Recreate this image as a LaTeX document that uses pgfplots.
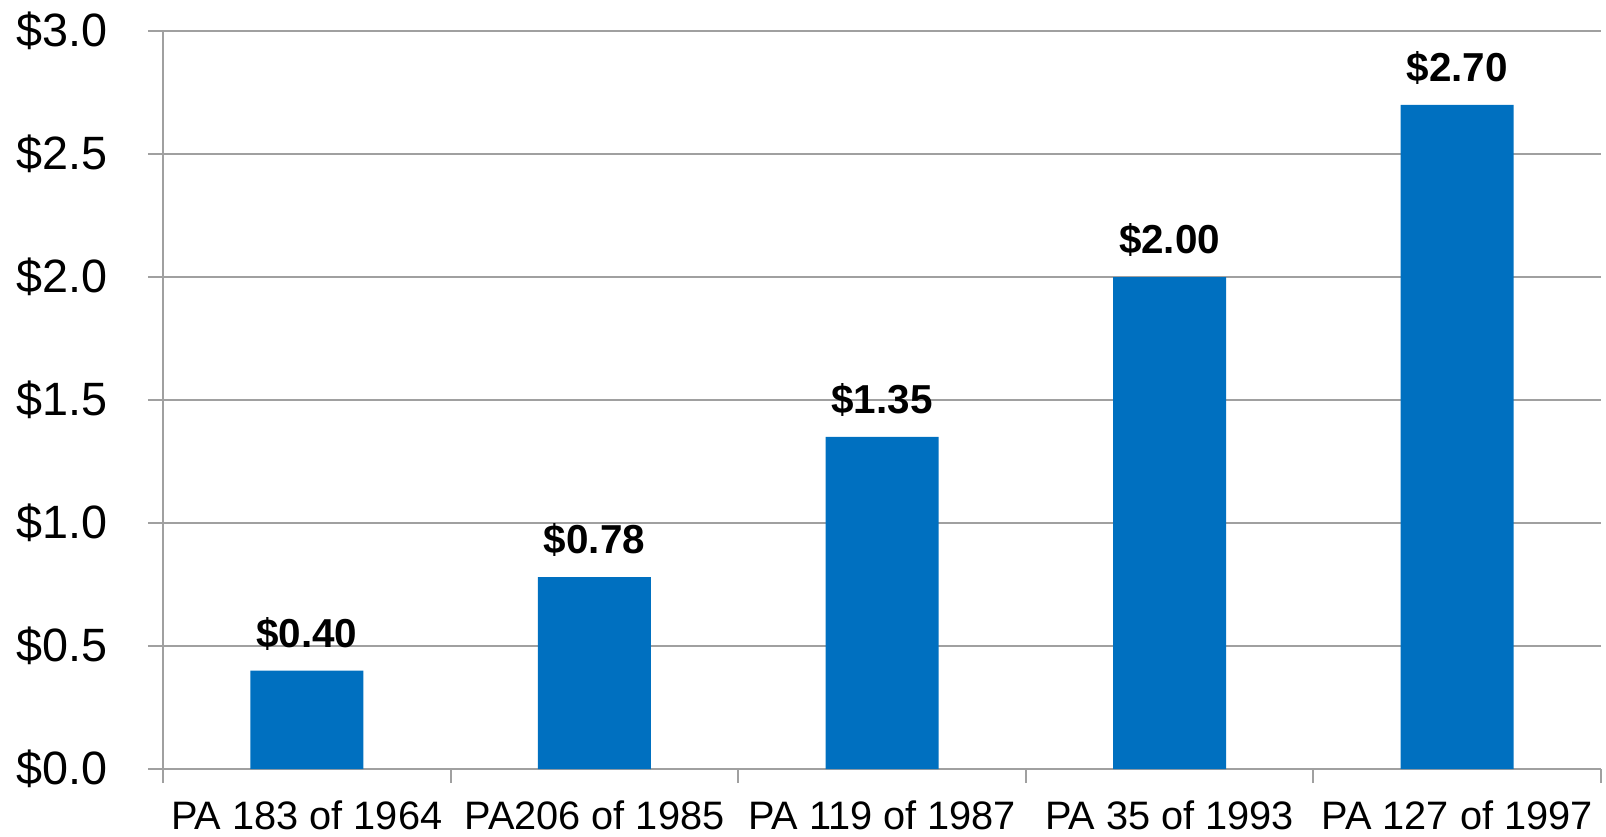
\documentclass[border=0pt]{standalone}
\usepackage{fontspec}
\setmainfont{Liberation Sans}
\usepackage{pgfplots}
\pgfplotsset{compat=1.18}
\definecolor{barblue}{RGB}{0,112,192}
\definecolor{gridgray}{RGB}{160,160,160}
\begin{document}
\begin{tikzpicture}
\begin{axis}[
  scale only axis,
  width=14.38cm, height=7.38cm,
  xmin=-0.5, xmax=4.5,
  ymin=0, ymax=3,
  ytick={0,0.5,...,3},
  xtick={0,1,2,3,4},
  xticklabels={PA 183 of 1964,PA206 of 1985,PA 119 of 1987,PA 35 of 1993,PA 127 of 1997},
  minor xtick={-0.5,0.5,1.5,2.5,3.5,4.5},
  major x tick style={draw=none},
  minor tick length=0.14cm,
  major tick length=0.15cm,
  tick align=outside,
  axis x line*=bottom,
  axis y line*=left,
  axis line style={gridgray, line width=0.6pt, -},
  every tick/.style={gridgray, line width=0.6pt},
  ymajorgrids,
  grid style={gridgray, line width=0.6pt},
  /pgf/number format/assume math mode=true,
  yticklabel={\$\pgfmathprintnumber[fixed,fixed zerofill,precision=1]{\tick}},
  yticklabel style={font=\fontsize{13.3}{15}\selectfont, xshift=-0.28cm},
  xticklabel style={font=\fontsize{11.3}{13}\selectfont, yshift=-0.04cm},
  ybar, bar width=1.13cm,
  nodes near coords={\$\pgfmathprintnumber[fixed,fixed zerofill,precision=2]{\pgfplotspointmeta}},
  every node near coord/.append style={font=\fontsize{11.5}{13}\selectfont\bfseries, yshift=0.08cm},
]
\addplot[fill=barblue, draw=none] coordinates {(0,0.40) (1,0.78) (2,1.35) (3,2.00) (4,2.70)};
\end{axis}
\pgfresetboundingbox
\useasboundingbox ([xshift=-1.63cm,yshift=-0.67cm]current axis.south west) rectangle ([xshift=0.05cm,yshift=0.31cm]current axis.north east);
\end{tikzpicture}
\end{document}
